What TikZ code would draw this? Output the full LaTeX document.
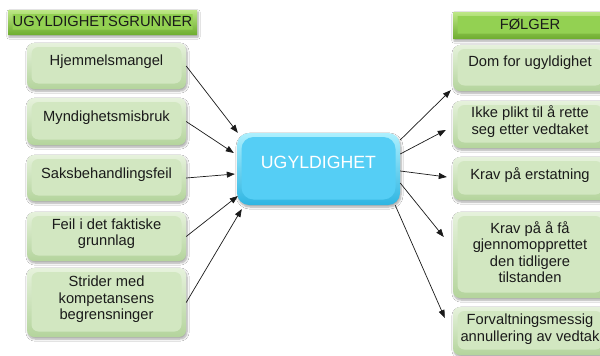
\documentclass[tikz,border=0pt]{standalone}
\usepackage{fontspec}
\setmainfont{Liberation Sans}
\usetikzlibrary{arrows.meta,calc,shadows.blur}

\definecolor{greenTop}{HTML}{E6F2DC}
\definecolor{greenBot}{HTML}{B4D49C}
\definecolor{greenFace}{HTML}{D2E7C1}
\definecolor{headTop}{HTML}{BDE786}
\definecolor{headBot}{HTML}{6EAD2E}
\definecolor{headFace}{HTML}{93D152}
\definecolor{cyanTop}{HTML}{ADF0FE}
\definecolor{cyanBot}{HTML}{2EB5E2}
\definecolor{cyanFace}{HTML}{55CEF5}
\definecolor{ink}{HTML}{1A1A1A}

\tikzset{
  % bevelled box: outer rim shaded top to bottom, flat face inset
  bevel/.style n args={4}{
    rounded corners=#4, top color=#1, bottom color=#2, draw=none, inner sep=0pt,
    path picture={\fill[#3, rounded corners=#4]
      ([xshift=4.5pt,yshift=5.5pt]path picture bounding box.south west) rectangle
      ([xshift=-4.5pt,yshift=-4pt]path picture bounding box.north east);},
    blur shadow={shadow xshift=1pt, shadow yshift=-2pt, shadow blur steps=6, shadow opacity=35}},
  lbox/.style={bevel={greenTop}{greenBot}{greenFace}{7pt}, minimum width=159pt},
  rbox/.style={bevel={greenTop}{greenBot}{greenFace}{7pt}, minimum width=154pt},
  head/.style={bevel={headTop}{headBot}{headFace}{0.1pt}},
  core/.style={bevel={cyanTop}{cyanBot}{cyanFace}{12pt}, minimum width=163pt, minimum height=72pt},
  txt/.style={text=ink, font=\fontsize{14.7}{16.5}\selectfont, align=center, inner sep=0pt},
  coretxt/.style={text=white, font=\fontsize{17.7}{20}\selectfont, inner sep=0pt},
  arr/.style={draw=ink, line width=0.7pt, -{Triangle[length=8pt,width=6pt]}},
}

\begin{document}
\begin{tikzpicture}[x=1pt,y=-1pt]
  \clip (0,0) rectangle (600,356);
  \path[use as bounding box] (0,0) rectangle (600,356);
  \fill[white] (0,0) rectangle (600,356);

  % left column: grounds
  \node[head, minimum width=189pt, minimum height=25pt] (hl) at (102.5,22.5) {};
  \node[txt] (hlt) at ([yshift=1pt]hl.center) {UGYLDIGHETSGRUNNER};

  \node[lbox, minimum height=46pt] (g1) at (106.5,66) {};
  \node[lbox, minimum height=47pt] (g2) at (106.5,121.5) {};
  \node[lbox, minimum height=46pt] (g3) at (106.5,178) {};
  \node[lbox, minimum height=49pt] (g4) at (106.5,236.5) {};
  \node[lbox, minimum height=69pt] (g5) at (106.5,302.5) {};
  \node[txt] (g1t) at ([yshift=4pt]g1.center) {Hjemmelsmangel};
  \node[txt] (g2t) at ([yshift=4pt]g2.center) {Myndighetsmisbruk};
  \node[txt] (g3t) at ([yshift=3pt]g3.center) {Saksbehandlingsfeil};
  \node[txt] (g4t) at ([yshift=3pt]g4.center) {Feil i det faktiske\\grunnlag};
  \node[txt] (g5t) at ([yshift=3pt]g5.center) {Strider med\\kompetansens\\begrensninger};

  % centre
  \node[core] (c) at (318.5,169) {};
  \node[coretxt] (ct) at ([yshift=7pt]c.center) {UGYLDIGHET};

  % right column: consequences
  \node[head, minimum width=154pt, minimum height=27pt] (hr) at (530,25.5) {};
  \node[txt] (hrt) at ([yshift=1pt]hr.center) {FØLGER};

  \node[rbox, minimum height=46pt] (f1) at (530,68) {};
  \node[rbox, minimum height=47pt] (f2) at (530,124.5) {};
  \node[rbox, minimum height=43pt] (f3) at (530,178.5) {};
  \node[rbox, minimum height=86pt] (f4) at (530,255) {};
  \node[rbox, minimum height=48pt] (f5) at (530,331) {};
  \node[txt] (f1t) at ([yshift=5pt]f1.center) {Dom for ugyldighet};
  \node[txt] (f2t) at ([yshift=3pt]f2.center) {Ikke plikt til å rette\\seg etter vedtaket};
  \node[txt] (f3t) at ([yshift=3pt]f3.center) {Krav på erstatning};
  \node[txt] (f4t) at ([yshift=3pt]f4.center) {Krav på å få\\gjennomopprettet\\den tidligere\\tilstanden};
  \node[txt] (f5t) at ([yshift=2pt]f5.center) {Forvaltningsmessig\\annullering av vedtak};

  % connectors into the centre
  \draw[arr] (g1.east) -- ($(c.north west)+(1,0)$);
  \draw[arr] (g2.east) -- ($(c.west)+(-3,-16)$);
  \draw[arr] (g3.east) -- ($(c.west)+(-2,5)$);
  \draw[arr] (g4.east) -- ($(c.west)+(1,27)$);
  \draw[arr] (g5.east) -- ($(c.west)+(5,40)$);

  % connectors out of the centre
  \draw[arr] ($(c.east)+(0,-29)$) -- ($(f1.south west)+(-2,-1)$);
  \draw[arr] ($(c.east)+(0,-15)$) -- ($(f2.west)+(-7,5.5)$);
  \draw[arr] ($(c.east)+(0,2)$) -- ($(f3.west)+(-6,-1.5)$);
  \draw[arr] ($(c.east)+(0,14)$) -- ($(f4.west)+(-9,-18)$);
  \draw[arr] ($(c.south east)+(-5,0)$) -- ($(f5.west)+(-8,-13)$);
\end{tikzpicture}
\end{document}
